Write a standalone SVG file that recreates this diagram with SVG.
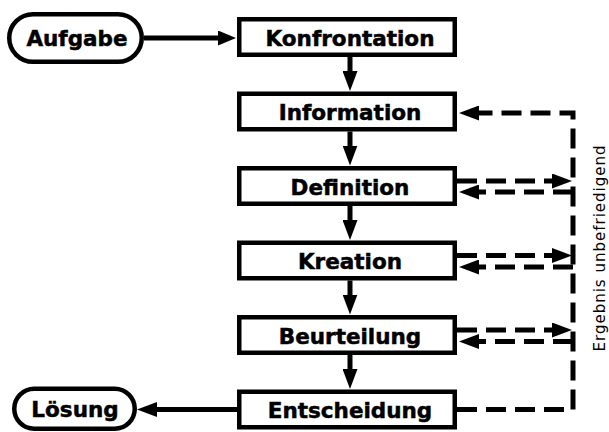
<svg xmlns="http://www.w3.org/2000/svg" width="609" height="432" viewBox="0 0 609 432">
  <defs>
    <style>
      .box { fill: #fff; stroke: #000; stroke-width: 4.5; }
      .lbl { font-family: "DejaVu Sans", Verdana, sans-serif; font-weight: bold; font-size: 21.5px; text-anchor: middle; fill: #000; stroke: #000; stroke-width: 0.5; }
      .side { font-family: "DejaVu Sans", Verdana, sans-serif; font-size: 15px; letter-spacing: 1px; text-anchor: middle; fill: #000; }
      .flow { fill: none; stroke: #000; stroke-width: 5; }
      .fb { fill: none; stroke: #000; stroke-width: 5; stroke-dasharray: 20 9; }
    </style>
    <marker id="head" markerUnits="userSpaceOnUse" viewBox="0 0 20 15" markerWidth="20" markerHeight="15" refX="1" refY="7.5" orient="auto">
      <path d="M0,0 L20,7.5 L0,15 z" fill="#000"/>
    </marker>
    <marker id="headS" markerUnits="userSpaceOnUse" viewBox="0 0 18 15" markerWidth="18" markerHeight="15" refX="1" refY="7.5" orient="auto">
      <path d="M0,0 L18,7.5 L0,15 z" fill="#000"/>
    </marker>
  </defs>

  <!-- connectors -->
  <g id="connectors">
    <!-- main flow -->
    <line class="flow" x1="144" y1="38" x2="219" y2="38" marker-end="url(#headS)"/>
    <line class="flow" x1="350" y1="57" x2="350" y2="72" marker-end="url(#head)"/>
    <line class="flow" x1="350" y1="131.5" x2="350" y2="146.5" marker-end="url(#head)"/>
    <line class="flow" x1="350" y1="206" x2="350" y2="221" marker-end="url(#head)"/>
    <line class="flow" x1="350" y1="280.5" x2="350" y2="295.5" marker-end="url(#head)"/>
    <line class="flow" x1="350" y1="355" x2="350" y2="370" marker-end="url(#head)"/>
    <line class="flow" x1="237" y1="409.5" x2="156" y2="409.5" marker-end="url(#head)"/>

    <!-- feedback loop: unsatisfactory result -->
    <path class="fb" d="M457,409.5 H573 V113 H478" marker-end="url(#head)"/>
    <path class="fb" d="M457,181 H553" marker-end="url(#head)"/>
    <path class="fb" d="M573,192 H478" marker-end="url(#head)"/>
    <path class="fb" d="M457,255.5 H553" marker-end="url(#head)"/>
    <path class="fb" d="M573,267 H478" marker-end="url(#head)"/>
    <path class="fb" d="M457,330 H553" marker-end="url(#head)"/>
    <path class="fb" d="M573,341.5 H478" marker-end="url(#head)"/>
  </g>

  <g id="aufgabe">
    <rect class="box" x="9.25" y="14.25" width="132.5" height="47.5" rx="23.75"/>
    <text class="lbl" x="77" y="46">Aufgabe</text>
  </g>
  <g id="konfrontation">
    <rect class="box" x="239.25" y="19.25" width="215.5" height="35.5"/>
    <text class="lbl" x="350" y="45.5">Konfrontation</text>
  </g>
  <g id="information">
    <rect class="box" x="239.25" y="93.75" width="215.5" height="35.5"/>
    <text class="lbl" x="350" y="120">Information</text>
  </g>
  <g id="definition">
    <rect class="box" x="239.25" y="168.25" width="215.5" height="35.5"/>
    <text class="lbl" x="350" y="194.5">Definition</text>
  </g>
  <g id="kreation">
    <rect class="box" x="239.25" y="242.75" width="215.5" height="35.5"/>
    <text class="lbl" x="350" y="269">Kreation</text>
  </g>
  <g id="beurteilung">
    <rect class="box" x="239.25" y="317.25" width="215.5" height="35.5"/>
    <text class="lbl" x="350" y="343.5">Beurteilung</text>
  </g>
  <g id="entscheidung">
    <rect class="box" x="239.25" y="391.75" width="215.5" height="35.5"/>
    <text class="lbl" x="350" y="418">Entscheidung</text>
  </g>
  <g id="loesung">
    <rect class="box" x="14.25" y="388.75" width="120.5" height="40" rx="20"/>
    <text class="lbl" x="75" y="417">Lösung</text>
  </g>

  <g id="feedback-label">
    <text class="side" transform="translate(605,248) rotate(-90)">Ergebnis unbefriedigend</text>
  </g>
</svg>
